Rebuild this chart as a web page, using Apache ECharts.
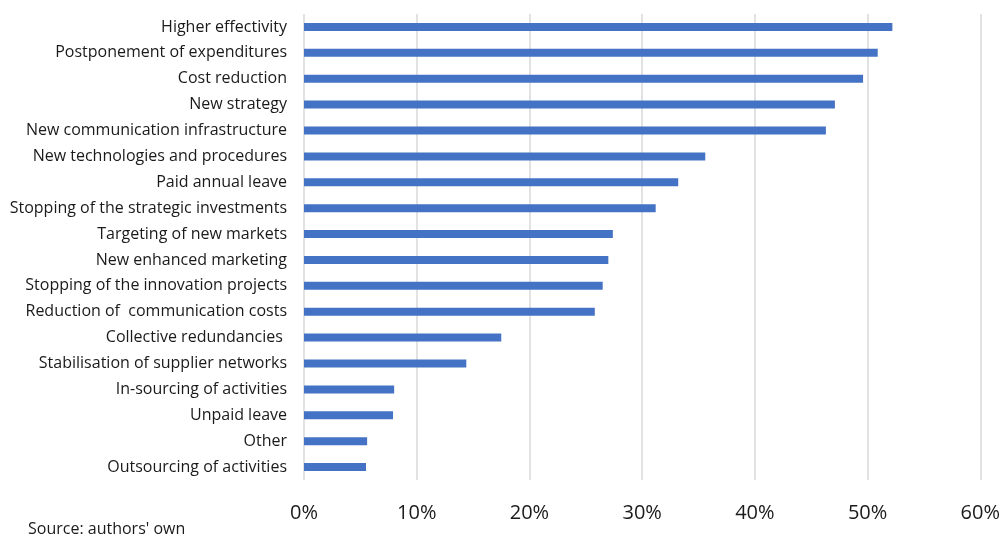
<!DOCTYPE html>
<html>
<head>
<meta charset="utf-8">
<script src="https://cdn.jsdelivr.net/npm/echarts@6/dist/echarts.min.js"></script>
<style>
	html, body { margin: 0; padding: 0; background: #fff; }
	#main { width: 1003px; height: 539px; }
</style>
</head>
<body>
<div id="main"></div>
<script>
	// categories from top to bottom, as in the picture
	var categories = [
		'Higher effectivity',
		'Postponement of expenditures',
		'Cost reduction',
		'New strategy',
		'New communication infrastructure',
		'New technologies and procedures',
		'Paid annual leave',
		'Stopping of the strategic investments',
		'Targeting of new markets',
		'New enhanced marketing',
		'Stopping of the innovation projects',
		'Reduction of  communication costs',
		'Collective redundancies ',
		'Stabilisation of supplier networks',
		'In-sourcing of activities',
		'Unpaid leave',
		'Other',
		'Outsourcing of activities'
	];
	// share of answers, in %
	var shares = [52.2, 50.9, 49.6, 47.1, 46.3, 35.6, 33.2, 31.2, 27.4,
		27.0, 26.5, 25.8, 17.5, 14.4, 8.0, 7.9, 5.6, 5.5];
	var xTicks = [0, 10, 20, 30, 40, 50, 60];

	var font = 'Open Sans, Noto Sans, sans-serif';
	var chart = echarts.init(document.getElementById('main'));
	var option = {
		animation: false,
		grid: {
			left: 304,
			right: 22,
			top: 14,
			bottom: 59
		},
		xAxis: {
			type: 'value',
			min: xTicks[0],
			max: xTicks[xTicks.length - 1],
			interval: 10,
			axisLine: { show: false },
			axisTick: { show: false },
			splitLine: { lineStyle: { color: '#d9d9d9', width: 1.5 } },
			axisLabel: {
				formatter: '{value}%',
				color: '#1a1a1a',
				fontSize: 20,
				fontFamily: font,
				margin: 23
			}
		},
		yAxis: {
			type: 'category',
			inverse: true,
			data: categories,
			axisLine: { show: false },
			axisTick: { show: false },
			axisLabel: {
				color: '#1a1a1a',
				fontSize: 16,
				fontFamily: font,
				margin: 17
			}
		},
		series: [{
			type: 'bar',
			data: shares,
			barWidth: 8,
			itemStyle: { color: '#4472C4' }
		}],
		graphic: [{
			type: 'text',
			left: 28,
			top: 521,
			style: {
				text: "Source: authors' own",
				fill: '#1a1a1a',
				fontSize: 16,
				fontFamily: font
			}
		}]
	};
	chart.setOption(option);
</script>
</body>
</html>
